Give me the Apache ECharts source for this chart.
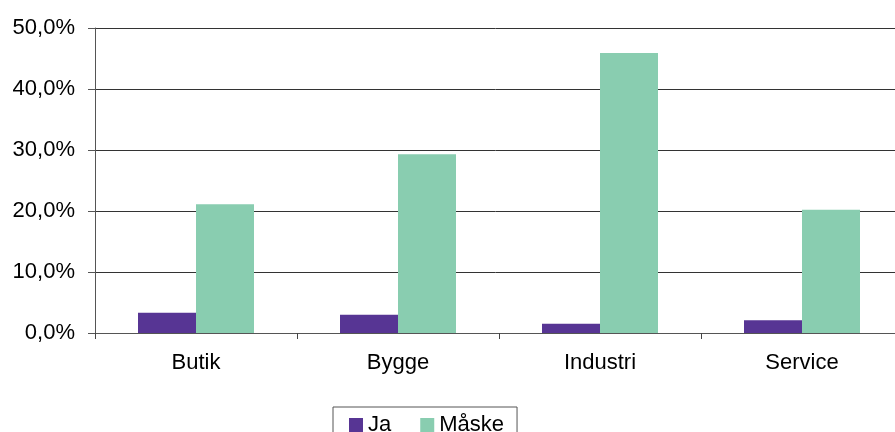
<!DOCTYPE html>
<html><head><meta charset="utf-8">
<script src="https://cdn.jsdelivr.net/npm/echarts@6/dist/echarts.min.js"></script>
<style>html,body{margin:0;padding:0;background:#fff}#c{width:895px;height:432px}</style>
</head><body><div id="c"></div>
<script>
const categories = ['Butik', 'Bygge', 'Industri', 'Service'];
const jaValues = [3.3, 3.0, 1.5, 2.1];
const maskeValues = [21.1, 29.3, 45.9, 20.2];
const seriesNames = ['Ja', 'Måske'];
const yTicks = { min: 0, max: 50, interval: 10 };

const font = 'Liberation Sans, Arial, sans-serif';
const chart = echarts.init(document.getElementById('c'));
chart.setOption({
  animation: false,
  textStyle: { fontFamily: font },
  grid: { left: 95, width: 808, top: 28, height: 305, containLabel: false, outerBoundsMode: 'none' },
  xAxis: {
    type: 'category',
    data: categories,
    axisLine: { show: true, lineStyle: { color: '#555', width: 1 } },
    axisTick: { show: true, alignWithLabel: false, length: 6, lineStyle: { color: '#444' } },
    axisLabel: { color: '#000', fontSize: 22, margin: 19, fontFamily: font }
  },
  yAxis: {
    type: 'value',
    min: yTicks.min, max: yTicks.max, interval: yTicks.interval,
    axisLine: { show: true, lineStyle: { color: '#555', width: 1 } },
    axisTick: { show: true, length: 7, lineStyle: { color: '#555' } },
    axisLabel: { color: '#000', fontSize: 22, margin: 20, fontFamily: font,
      formatter: v => v.toFixed(1).replace('.', ',') + '%' },
    splitLine: { show: true, lineStyle: { color: '#333', width: 1 } }
  },
  legend: {
    data: seriesNames,
    left: 333, top: 407,
    orient: 'horizontal',
    borderColor: '#555', borderWidth: 1,
    padding: [7, 13, 7, 16],
    itemWidth: 14, itemHeight: 14, itemGap: 29,
    icon: 'rect',
    textStyle: { color: '#000', fontSize: 22, fontFamily: font }
  },
  series: [
    { name: seriesNames[0], type: 'bar', data: jaValues, barWidth: 58, barGap: '0%',
      itemStyle: { color: '#573594' } },
    { name: seriesNames[1], type: 'bar', data: maskeValues, barWidth: 58,
      itemStyle: { color: '#89CDB0' } }
  ]
});
</script></body></html>
